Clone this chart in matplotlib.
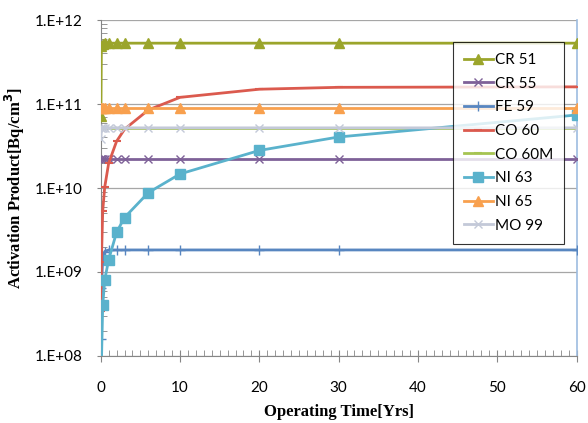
import numpy as np
import matplotlib
matplotlib.use("Agg")
import matplotlib.pyplot as plt
from matplotlib.ticker import FixedLocator, MultipleLocator, LogLocator, NullFormatter

# operating time points [years]
years = [0.02, 0.083, 0.25, 0.5, 1, 2, 3, 6, 10, 20, 30, 60]

cr51 = [7.2e10, 4.9e11, 5.2e11, 5.3e11, 5.3e11, 5.3e11, 5.3e11, 5.3e11, 5.3e11, 5.3e11, 5.3e11, 5.3e11]
cr55 = [2.2e10] * 12
fe59 = [1.6e8, 6.5e8, 1.4e9, 1.75e9, 1.83e9, 1.83e9, 1.83e9, 1.83e9, 1.83e9, 1.83e9, 1.83e9, 1.83e9]
co60 = [3.4e8, 1.3e9, 5.3e9, 1.02e10, 1.97e10, 3.6e10, 5.0e10, 8.5e10, 1.2e11, 1.5e11, 1.58e11, 1.6e11]
co60m = [5.15e10] * 12
ni63 = [2.9e7, 8.0e7, 4.0e8, 8.0e8, 1.4e9, 2.97e9, 4.45e9, 8.8e9, 1.47e10, 2.8e10, 4.05e10, 7.4e10]
ni65 = [9.0e10] * 12
mo99 = [3.8e10, 5.2e10, 5.2e10, 5.2e10, 5.2e10, 5.2e10, 5.2e10, 5.2e10, 5.2e10, 5.2e10, 5.2e10, 5.2e10]

y_ticks = [1e8, 1e9, 1e10, 1e11, 1e12]
y_labels = ["1.E+08", "1.E+09", "1.E+10", "1.E+11", "1.E+12"]

fig = plt.figure(figsize=(5.88, 4.23), dpi=100)
ax = fig.add_axes([0.1713, 0.1584, 0.8092, 0.7943])

tick_font = "Lato"

ax.plot(years, cr51, color="#9BA52B", lw=2, marker="^", ms=7, label="CR 51", zorder=3)
ax.plot(years, cr55, color="#7E6198", lw=2, marker="x", ms=6, mew=1, label="CR 55", zorder=3)
ax.plot(years, fe59, color="#5886C0", lw=2, marker="+", ms=7, mew=1, label="FE 59", zorder=3)
ax.plot(years, co60, color="#DB5A4E", lw=2, marker="_", ms=6, mew=1.5, label="CO 60", zorder=3)
ax.plot(years, co60m, color="#A6C452", lw=2, marker="_", ms=6, mew=1.5, label="CO 60M", zorder=3)
ax.plot(years, ni63, color="#5AB2CC", lw=2, marker="s", ms=7, label="NI 63", zorder=3)
ax.plot(years, ni65, color="#F8A04E", lw=2, marker="^", ms=7, label="NI 65", zorder=3)
ax.plot(years, mo99, color="#C3C9D8", lw=2, marker="x", ms=6, mew=1, label="MO 99", zorder=3)

ax.set_yscale("log")
ax.set_xlim(0, 60)
ax.set_ylim(1e8, 1e12)

ax.yaxis.set_major_locator(FixedLocator(y_ticks))
ax.set_yticklabels(y_labels, fontsize=11, family=tick_font)
ax.yaxis.set_minor_locator(LogLocator(base=10, subs=np.arange(2, 10)))
ax.yaxis.set_minor_formatter(NullFormatter())
ax.xaxis.set_major_locator(MultipleLocator(10))
ax.xaxis.set_minor_locator(MultipleLocator(1))
for lab in ax.get_xticklabels():
    lab.set_family(tick_font)
    lab.set_fontsize(11)

ax.tick_params(axis="y", which="major", direction="out", length=3, color="#868686", pad=10)
ax.tick_params(axis="y", which="minor", direction="in", length=4, color="#868686")
ax.tick_params(axis="x", which="major", direction="inout", length=8, color="#868686", pad=14)
ax.tick_params(axis="x", which="minor", direction="in", length=4, color="#868686")

ax.grid(axis="y", which="major", color="#A6A6A6", lw=0.9)
ax.set_axisbelow(True)
for s in ["left", "bottom"]:
    ax.spines[s].set_color("#868686")
ax.spines["top"].set_visible(False)
ax.spines["right"].set_color("#9DBCE0")
ax.spines["right"].set_linewidth(1.2)

ax.set_xlabel("Operating Time[Yrs]", fontsize=12, fontweight="bold", family="Liberation Serif")
ax.set_ylabel("Activation Product[Bq/cm$^\\mathbf{3}$]", fontsize=12, fontweight="bold",
              family="Liberation Serif")
ax.xaxis.set_label_coords(0.5, -0.143)
ax.yaxis.set_label_coords(-0.155, 0.5)

leg = ax.legend(loc="upper left", bbox_to_anchor=(0.740, 0.934), borderaxespad=0,
                prop={"family": tick_font, "size": 11}, fancybox=False, edgecolor="black",
                handlelength=1.9, handletextpad=0.15, labelspacing=0.63, borderpad=0.72)
leg.get_frame().set_linewidth(0.8)

fig.savefig("out.png", dpi=100)
